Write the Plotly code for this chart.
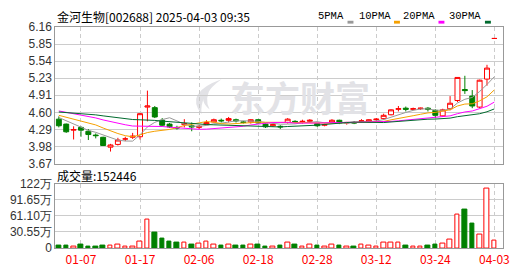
import numpy as np
import plotly.graph_objects as go

# ---------------- data ----------------
dates = ["2025-01-02","2025-01-03","2025-01-06","2025-01-07","2025-01-08","2025-01-09","2025-01-10",
         "2025-01-13","2025-01-14","2025-01-15","2025-01-16","2025-01-17","2025-01-20","2025-01-21",
         "2025-01-22","2025-01-23","2025-01-24","2025-01-27","2025-02-05","2025-02-06","2025-02-07",
         "2025-02-10","2025-02-11","2025-02-12","2025-02-13","2025-02-14","2025-02-17","2025-02-18",
         "2025-02-19","2025-02-20","2025-02-21","2025-02-24","2025-02-25","2025-02-26","2025-02-27",
         "2025-02-28","2025-03-03","2025-03-04","2025-03-05","2025-03-06","2025-03-07","2025-03-10",
         "2025-03-11","2025-03-12","2025-03-13","2025-03-14","2025-03-17","2025-03-18","2025-03-19",
         "2025-03-20","2025-03-21","2025-03-24","2025-03-25","2025-03-26","2025-03-27","2025-03-28",
         "2025-03-31","2025-04-01","2025-04-02","2025-04-03"]

open_ = [4.48,4.39,4.28,4.33,4.26,4.19,4.15,3.97,4.02,4.12,4.15,4.16,4.70,4.69,4.46,4.39,4.33,4.38,4.36,4.33,
         4.38,4.43,4.46,4.49,4.47,4.43,4.43,4.47,4.39,4.36,4.35,4.42,4.44,4.43,4.44,4.40,4.37,4.42,4.46,4.41,
         4.42,4.44,4.43,4.47,4.49,4.56,4.66,4.68,4.66,4.67,4.68,4.64,4.54,4.67,4.82,5.02,4.90,4.70,5.21,5.95]
high = [4.53,4.40,4.35,4.35,4.30,4.22,4.16,4.03,4.14,4.16,4.23,4.59,5.00,4.72,4.50,4.41,4.36,4.48,4.42,4.37,
        4.46,4.49,4.49,4.52,4.49,4.45,4.48,4.48,4.40,4.40,4.37,4.50,4.46,4.47,4.48,4.41,4.40,4.48,4.47,4.43,
        4.44,4.48,4.48,4.50,4.58,4.66,4.72,4.71,4.69,4.69,4.70,4.66,4.67,4.90,5.24,5.27,5.01,5.20,5.47,5.95]
low = [4.33,4.23,4.11,4.16,4.10,4.13,4.00,3.89,4.00,4.08,4.12,4.11,4.44,4.50,4.35,4.32,4.29,4.33,4.26,4.30,
       4.37,4.42,4.42,4.42,4.42,4.40,4.40,4.40,4.32,4.34,4.30,4.40,4.41,4.40,4.41,4.34,4.35,4.41,4.39,4.38,
       4.39,4.42,4.42,4.45,4.47,4.55,4.62,4.62,4.64,4.65,4.62,4.50,4.52,4.64,4.79,4.94,4.68,4.68,5.09,5.95]
close = [4.36,4.25,4.29,4.28,4.20,4.18,4.00,4.01,4.10,4.12,4.17,4.58,4.72,4.52,4.37,4.34,4.32,4.40,4.34,4.35,
         4.42,4.47,4.45,4.46,4.45,4.42,4.47,4.41,4.34,4.38,4.34,4.48,4.43,4.44,4.46,4.36,4.38,4.46,4.41,4.42,
         4.41,4.45,4.47,4.48,4.55,4.65,4.67,4.66,4.67,4.68,4.66,4.55,4.65,4.77,5.24,5.00,4.72,5.19,5.41,5.95]
# closes of the 29 sessions before the window (needed for the moving averages)
prior_close = [4.50,4.52,4.55,4.58,4.60,4.55,4.52,4.58,4.62,4.68,
               4.72,4.78,4.80,4.75,4.70,4.73,4.68,4.66,4.65,4.63,
               4.62,4.60,4.58,4.57,4.58,4.56,4.57,4.55,4.51]
# volume, 万
volume = [5.4,5.4,3.0,7.2,3.6,3.6,5.4,5.4,6.6,3.6,3.6,12.0,55.0,30.0,18.0,13.2,11.0,9.6,7.2,8.4,
          12.0,7.2,5.4,6.6,5.4,5.4,7.2,7.2,3.6,3.6,5.4,9.6,7.2,3.6,7.2,5.4,3.6,7.2,5.4,3.0,
          3.6,6.6,5.4,3.6,10.2,10.2,10.2,5.4,3.6,3.6,5.4,7.2,9.0,15.6,64.0,72.5,46.7,26.3,112.6,15.2446]

ma_periods = [5, 10, 20, 30]
ma_names = ["5PMA", "10PMA", "20PMA", "30PMA"]
price_tick_labels = ["3.67","3.98","4.29","4.60","4.91","5.23","5.54","5.85","6.16"]
vol_tick_labels = ["0","30.55万","61.10万","91.65万","122万"]
x_tick_labels = ["01-07","01-17","02-06","02-18","02-28","03-12","03-24","04-03"]
title_text = "金河生物[002688] 2025-04-03 09:35"
watermark_text = "东方财富"

# ---------------- styles ----------------
RED = "#ff0000"
GREEN = "#008000"
MA_COLORS = ["#999999", "#f5a000", "#ff00ff", "#006a2e"]
WM = "#e2e2e6"
W, H = 530, 276
L, R = 56, 509
P_TOP, P_BOT = 21, 165
V_TOP, V_BOT = 186, 254

n = len(dates)
idx = np.arange(n)
all_close = np.array(prior_close + close)
prev_close = all_close[len(prior_close) - 1:-1]

kinds = []
for i in range(n):
    if close[i] > open_[i] or (close[i] == open_[i] and close[i] > prev_close[i]):
        kinds.append("up")
    elif close[i] < open_[i] and close[i] > prev_close[i]:
        kinds.append("redfill")
    else:
        kinds.append("down")

fig = go.Figure()
styles = {"up": (RED, "#ffffff"), "redfill": (RED, RED), "down": (GREEN, GREEN)}
for kind, (lc, fc) in styles.items():
    sel = [i for i in range(n) if kinds[i] == kind]
    if not sel:
        continue
    fig.add_trace(go.Candlestick(
        x=[int(idx[i]) for i in sel],
        open=[open_[i] for i in sel], high=[high[i] for i in sel],
        low=[low[i] for i in sel], close=[close[i] for i in sel],
        increasing=dict(line=dict(color=lc, width=1), fillcolor=fc),
        decreasing=dict(line=dict(color=lc, width=1), fillcolor=fc),
        whiskerwidth=0, showlegend=False, hoverinfo="skip",
        xaxis="x", yaxis="y"))

for p, name, col in zip(ma_periods, ma_names, MA_COLORS):
    ma = np.convolve(all_close, np.ones(p) / p, mode="valid")[-n:]
    fig.add_trace(go.Scatter(x=idx, y=ma, mode="lines", line=dict(color=col, width=1),
                             showlegend=False, hoverinfo="skip", xaxis="x", yaxis="y"))

vol_up = [close[i] >= prev_close[i] for i in range(n)]
fig.add_trace(go.Bar(
    x=idx, y=volume, width=0.62,
    marker=dict(color=["#ffffff" if u else GREEN for u in vol_up],
                line=dict(color=[RED if u else GREEN for u in vol_up], width=1)),
    showlegend=False, hoverinfo="skip", xaxis="x2", yaxis="y2"))

tick_pos = [dates.index("2025-" + t) for t in x_tick_labels]
price_ticks = np.linspace(float(price_tick_labels[0]), float(price_tick_labels[-1]), len(price_tick_labels))
vol_max = 122.2
vol_ticks = np.linspace(0, vol_max, len(vol_tick_labels))

xr = [-0.469, 60.2]
xdom = [L / W, R / W]
common_x = dict(range=xr, domain=xdom, tickmode="array", tickvals=tick_pos, showgrid=True,
                gridcolor="#cccccc", griddash="4px,3px", gridwidth=1, zeroline=False,
                showline=True, mirror=True, linecolor="#999999", linewidth=1, ticks="",
                rangeslider=dict(visible=False), fixedrange=True)
fig.update_layout(
    width=W, height=H, margin=dict(l=0, r=0, t=0, b=0),
    paper_bgcolor="white", plot_bgcolor="white",
    boxgap=0.33, boxgroupgap=0, bargap=0,
    xaxis=dict(anchor="y", showticklabels=False, **common_x),
    xaxis2=dict(anchor="y2", matches="x", ticktext=x_tick_labels, showticklabels=True,
                tickfont=dict(family="Noto Sans CJK SC", size=12, color=RED), **common_x),
    yaxis=dict(domain=[1 - P_BOT / H, 1 - P_TOP / H], range=[price_ticks[0], price_ticks[-1]],
               tickmode="array", tickvals=price_ticks, ticktext=price_tick_labels,
               showgrid=True, gridcolor="#cccccc", zeroline=False, showline=True, mirror=True,
               linecolor="#999999", ticks="", tickfont=dict(family="Liberation Sans", size=12, color="#333333"),
               fixedrange=True),
    yaxis2=dict(domain=[1 - V_BOT / H, 1 - V_TOP / H], range=[0, vol_max],
                tickmode="array", tickvals=vol_ticks, ticktext=vol_tick_labels,
                showgrid=True, gridcolor="#cccccc", zeroline=False, showline=True, mirror=True,
                linecolor="#999999", ticks="", tickfont=dict(family="Liberation Sans", size=12, color="#333333"),
                fixedrange=True),
)


def px(x):
    return x / W


def py(y):
    return 1 - y / H


ann = []
shapes = []
ann.append(dict(text=title_text, x=px(56), y=py(9.5), xref="paper", yref="paper",
                xanchor="left", yanchor="middle", showarrow=False,
                font=dict(family="Noto Sans CJK SC", size=12, color="#000000")))
ann.append(dict(text="成交量:%d" % round(volume[-1] * 10000), x=px(56), y=py(177),
                xref="paper", yref="paper", xanchor="left", yanchor="middle", showarrow=False,
                font=dict(family="Noto Sans CJK SC", size=12, color="#000000")))
# watermark (logo swoosh + text), drawn under the data
ann.append(dict(text="<b>%s</b>" % watermark_text, x=px(303), y=py(94), xref="paper", yref="paper",
                xanchor="center", yanchor="middle", showarrow=False,
                font=dict(family="Noto Sans CJK SC", size=35, color=WM)))
logo = ("M %f,%f Q %f,%f %f,%f Q %f,%f %f,%f Z" %
        (px(224), py(76), px(186), py(90), px(204), py(113), px(201), py(93), px(224), py(76)))
shapes.append(dict(type="path", xref="paper", yref="paper", path=logo, fillcolor=WM,
                   line=dict(width=0), layer="below"))
logo2 = ("M %f,%f Q %f,%f %f,%f Q %f,%f %f,%f Z" %
         (px(214), py(84), px(198), py(96), px(212), py(108), px(206), py(96), px(214), py(84)))
shapes.append(dict(type="path", xref="paper", yref="paper", path=logo2, fillcolor=WM,
                   line=dict(width=0), layer="below"))

leg_text_right = [350, 397, 442, 489]
for name, col, xr_ in zip(ma_names, MA_COLORS, leg_text_right):
    ann.append(dict(text=name, x=px(xr_), y=py(9), xref="paper", yref="paper",
                    xanchor="right", yanchor="middle", showarrow=False,
                    font=dict(family="Liberation Mono", size=10.5, color="#000000")))
    shapes.append(dict(type="rect", xref="paper", yref="paper",
                       x0=px(xr_ + 1.5), x1=px(xr_ + 7.5), y0=py(17.5), y1=py(14.5),
                       fillcolor=col, line=dict(width=0)))
fig.update_layout(annotations=ann, shapes=shapes)

fig.write_html("out.html")
